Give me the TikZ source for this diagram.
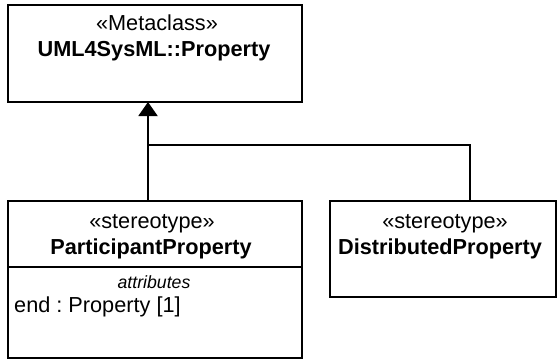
\documentclass[tikz,border=0pt]{standalone}
\usepackage{fontspec}
\setmainfont{Liberation Sans}
\usetikzlibrary{arrows.meta}
\frenchspacing
\begin{document}
\begin{tikzpicture}[x=1pt,y=-1pt,
  umlbox/.style={draw, line width=2pt, rectangle, anchor=north west, inner sep=0pt, outer sep=0pt},
  lbl/.style={anchor=base, inner sep=0pt, font=\fontsize{21.7}{26}\selectfont},
  bold/.style={lbl, font=\fontsize{21.7}{26}\selectfont\bfseries},
  small/.style={anchor=base, inner sep=0pt, font=\fontsize{17.7}{21}\selectfont\itshape},
  conn/.style={line width=2pt},
  gen/.style={conn, -{Triangle[width=19pt,length=14pt]}}]
\useasboundingbox (0,0) rectangle (558,360);
% boxes
\node[umlbox, minimum width=294pt, minimum height=97pt] (meta) at (8,5) {};
\node[umlbox, minimum width=294pt, minimum height=157pt] (part) at (8,201) {};
\node[umlbox, minimum width=226pt, minimum height=96pt] (dist) at (330,201) {};
\draw[line width=2pt] (8,267) -- (302,267);
% texts
\node[lbl] (metaSt) at (157,30) {«Metaclass»};
\node[bold] (metaNm) at (154,56) {UML4SysML::Property};
\node[lbl] (partSt) at (152,228) {«stereotype»};
\node[bold] (partNm) at (151,254) {ParticipantProperty};
\node[small] (attr) at (154,288) {attributes};
\node[lbl, anchor=base west] (attrEnd) at (14,312) {end : Property [1]};
\node[lbl] (distSt) at (445,228) {«stereotype»};
\node[bold] (distNm) at (440,254) {DistributedProperty};
% connectors
\coordinate (j) at (148,145);
\draw[gen] (part.north west -| j) -- (meta.south west -| j);
\draw[conn] (dist.north west -| 470,0) |- (j);
\end{tikzpicture}
\end{document}
